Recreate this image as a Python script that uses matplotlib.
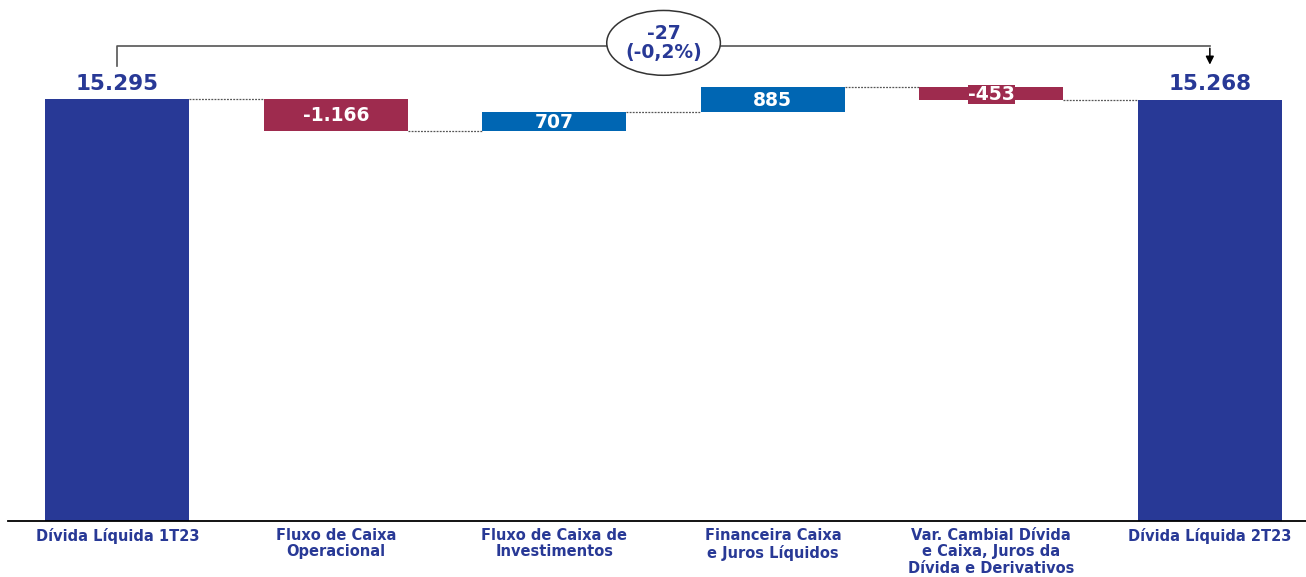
import matplotlib.pyplot as plt
from matplotlib.patches import Ellipse

plt.rcParams['font.family'] = ['DejaVu Sans']

# Data
categories = ['Dívida Líquida 1T23', 'Fluxo de Caixa\nOperacional', 'Fluxo de Caixa de\nInvestimentos',
              'Financeira Caixa\ne Juros Líquidos', 'Var. Cambial Dívida\ne Caixa, Juros da\nDívida e Derivativos',
              'Dívida Líquida 2T23']
values = [15295, -1166, 707, 885, -453, 15268]
labels = ['15.295', '-1.166', '707', '885', '-453', '15.268']
delta_text = '-27\n(-0,2%)'

dark_blue = '#283996'
red = '#9E2B4E'
blue = '#0066B3'

fig = plt.figure(figsize=(13.06, 5.77), dpi=100)
ax = fig.add_axes([8 / 1306, 56 / 577, 1 - 8 / 1306, 1 - 56 / 577])

x = list(range(len(values)))
width = 0.66

# running totals
bottoms = []
tops = []
total = 0
for i, v in enumerate(values):
    if i == 0 or i == len(values) - 1:
        bottoms.append(0)
        tops.append(v)
        total = v
    else:
        new = total + v
        bottoms.append(min(total, new))
        tops.append(max(total, new))
        total = new

colors = []
for i, v in enumerate(values):
    if i == 0 or i == len(values) - 1:
        colors.append(dark_blue)
    elif v < 0:
        colors.append(red)
    else:
        colors.append(blue)

heights = [t - b for t, b in zip(tops, bottoms)]
ax.bar(x, heights, bottom=bottoms, width=width, color=colors, zorder=2)

# connectors
level = values[0]
for i in range(len(values) - 1):
    if i > 0:
        level = level + values[i]
    ax.plot([i + width / 2, i + 1 - width / 2], [level, level], color='#555555',
            lw=0.9, ls=(0, (1.5, 1)), zorder=1)

# value labels
for i, v in enumerate(values):
    mid = (tops[i] + bottoms[i]) / 2
    if i == 0 or i == len(values) - 1:
        ax.text(i, tops[i] + 200, labels[i], ha='center', va='bottom', fontsize=15.5,
                fontweight='bold', color=dark_blue)
    elif i == 4:
        ax.text(i, mid + 40, labels[i], ha='center', va='center_baseline',
                fontsize=13.5, fontweight='bold', color='white',
                bbox=dict(boxstyle='square,pad=0.02', fc=red, ec='none'))
    else:
        ax.text(i, mid + 40, labels[i], ha='center', va='center_baseline',
                fontsize=13.5, fontweight='bold', color='white')

# bracket
yb = 17216
ax.plot([0, 0, 5, 5], [16500, yb, yb, yb], color='#555555', lw=1.2, zorder=1)
ax.annotate('', xy=(5, 16440), xytext=(5, yb + 20),
            arrowprops=dict(arrowstyle='-|>', color='black', lw=1.1, mutation_scale=12))
ell = Ellipse((2.5, 17330), width=0.52, height=2350, fc='white', ec='#333333', lw=1.1, zorder=3)
ax.add_patch(ell)
ax.text(2.5, 17330, delta_text, ha='center', va='center', fontsize=13.5, fontweight='bold',
        color=dark_blue, linespacing=1.0, zorder=4)

ax.set_xlim(-0.5, 5.44)
ax.set_ylim(0, 18884)
ax.set_xticks(x)
ax.set_xticklabels(categories, fontsize=10.5, fontweight='bold', color=dark_blue, linespacing=1.12)
ax.tick_params(axis='x', length=0, pad=5)
ax.set_yticks([])
for s in ['left', 'right', 'top']:
    ax.spines[s].set_visible(False)
ax.spines['bottom'].set_linewidth(1.3)

fig.savefig('out.png', dpi=100)
